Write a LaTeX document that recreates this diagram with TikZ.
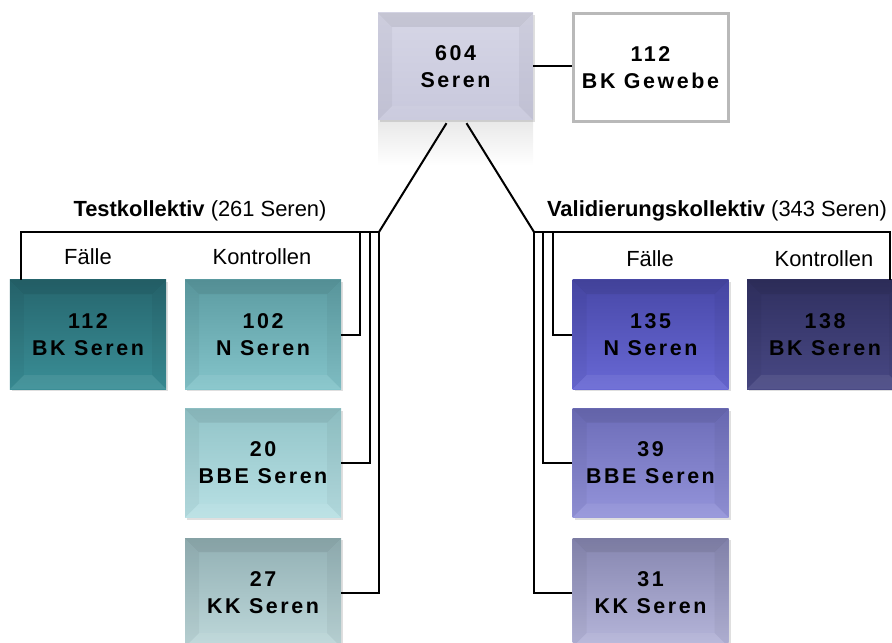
\documentclass[tikz,border=0pt]{standalone}
\usepackage{fontspec}
\setmainfont{Liberation Sans}
\newfontfamily\boxfont[LetterSpace=12]{Liberation Sans}
\usetikzlibrary{positioning,shadows}

\definecolor{rootTop}{RGB}{214,214,230}
\definecolor{rootBot}{RGB}{200,200,220}
\definecolor{bkTtop}{RGB}{38,102,110}
\definecolor{bkTbot}{RGB}{58,142,150}
\definecolor{nTtop}{RGB}{92,156,162}
\definecolor{nTbot}{RGB}{132,196,202}
\definecolor{bbeTtop}{RGB}{146,196,200}
\definecolor{bbeTbot}{RGB}{184,224,228}
\definecolor{kkTtop}{RGB}{146,176,180}
\definecolor{kkTbot}{RGB}{190,216,218}
\definecolor{nVtop}{RGB}{72,72,168}
\definecolor{nVbot}{RGB}{104,104,212}
\definecolor{bkVtop}{RGB}{48,48,96}
\definecolor{bkVbot}{RGB}{72,72,132}
\definecolor{bbeVtop}{RGB}{108,108,184}
\definecolor{bbeVbot}{RGB}{148,148,218}
\definecolor{kkVtop}{RGB}{134,134,176}
\definecolor{kkVbot}{RGB}{182,182,218}

\tikzset{
  serbox/.style 2 args={minimum width=156bp, minimum height=109bp, inner sep=0pt,
    align=center, font=\boxfont\bfseries\fontsize{21.5}{27}\selectfont,
    top color=#1, bottom color=#2,
    drop shadow={opacity=.25, shadow xshift=2bp, shadow yshift=-2bp},
    path picture={
      \fill[black,opacity=.08] (path picture bounding box.north west) -- (path picture bounding box.north east)
        -- ([xshift=-14bp,yshift=-14bp]path picture bounding box.north east)
        -- ([xshift=14bp,yshift=-14bp]path picture bounding box.north west) -- cycle;
      \fill[white,opacity=.07] (path picture bounding box.south west) -- (path picture bounding box.south east)
        -- ([xshift=-14bp,yshift=14bp]path picture bounding box.south east)
        -- ([xshift=14bp,yshift=14bp]path picture bounding box.south west) -- cycle;
      \fill[black,opacity=.04] (path picture bounding box.north west) -- ([xshift=14bp,yshift=-14bp]path picture bounding box.north west)
        -- ([xshift=14bp,yshift=14bp]path picture bounding box.south west) -- (path picture bounding box.south west) -- cycle;
      \fill[black,opacity=.04] (path picture bounding box.north east) -- ([xshift=-14bp,yshift=-14bp]path picture bounding box.north east)
        -- ([xshift=-14bp,yshift=14bp]path picture bounding box.south east) -- (path picture bounding box.south east) -- cycle;
    }},
  link/.style={line width=2bp}
}

\begin{document}
\begin{tikzpicture}[x=1bp, y=-1bp, font=\fontsize{22}{26}\selectfont]
   \useasboundingbox (0,0) rectangle (892,643);

   % mirror under the root box
   \fill[top color=gray!18, bottom color=white] (378,120) rectangle (533,165);

   \node [serbox={rootTop}{rootBot}, minimum width=155bp, minimum height=107bp] (root) at (455.5,66.5) {604\\Seren};
   \node [draw=gray!55, line width=3bp, fill=white, minimum width=155bp, minimum height=108bp,
          align=center, font=\boxfont\bfseries\fontsize{21.5}{27}\selectfont] (gewebe) at (650.5,68) {112\\BK Gewebe};

   % Testkollektiv
   \node [serbox={bkTtop}{bkTbot}] (bkT) at (88,334.5) {112\\BK Seren};
   \node [serbox={nTtop}{nTbot}] (nT) at (263,334.5) {102\\N Seren};
   \node [serbox={bbeTtop}{bbeTbot}] (bbeT) at (263,463) {20\\BBE Seren};
   \node [serbox={kkTtop}{kkTbot}] (kkT) at (263,592.5) {27\\KK Seren};

   % Validierungskollektiv
   \node [serbox={nVtop}{nVbot}] (nV) at (650.5,334.5) {135\\N Seren};
   \node [serbox={bkVtop}{bkVbot}] (bkV) at (825,334.5) {138\\BK Seren};
   \node [serbox={bbeVtop}{bbeVbot}] (bbeV) at (650.5,463) {39\\BBE Seren};
   \node [serbox={kkVtop}{kkVbot}] (kkV) at (650.5,592.5) {31\\KK Seren};

   \node (tkLabel) at (200,211) {\textbf{Testkollektiv} (261 Seren)};
   \node (vkLabel) at (717,211) {\textbf{Validierungskollektiv} (343 Seren)};
   \node (tkF) at (88,257) {Fälle};
   \node (tkK) at (262,257) {Kontrollen};
   \node (vkF) at (650,259) {Fälle};
   \node (vkK) at (824,259) {Kontrollen};

   \coordinate (tk) at (379,232);
   \coordinate (vk) at (534,232);

   \draw [link] (root.east) -- (root.east -| gewebe.west);
   \draw [link] ([xshift=-9bp,yshift=-3bp]root.south) -- (tk);
   \draw [link] ([xshift=11bp,yshift=-3bp]root.south) -- (vk);

   \draw [link] (tk) -| ([xshift=11bp]bkT.north west);
   \foreach \dx/\n in {-19/nT,-9/bbeT,0/kkT}
      \draw [link] ([xshift=\dx bp]tk) |- (\n.east);

   \draw [link] (vk) -| ([xshift=-13bp]bkV.north east);
   \foreach \dx/\n in {19/nV,9/bbeV,0/kkV}
      \draw [link] ([xshift=\dx bp]vk) |- (\n.west);
\end{tikzpicture}
\end{document}
